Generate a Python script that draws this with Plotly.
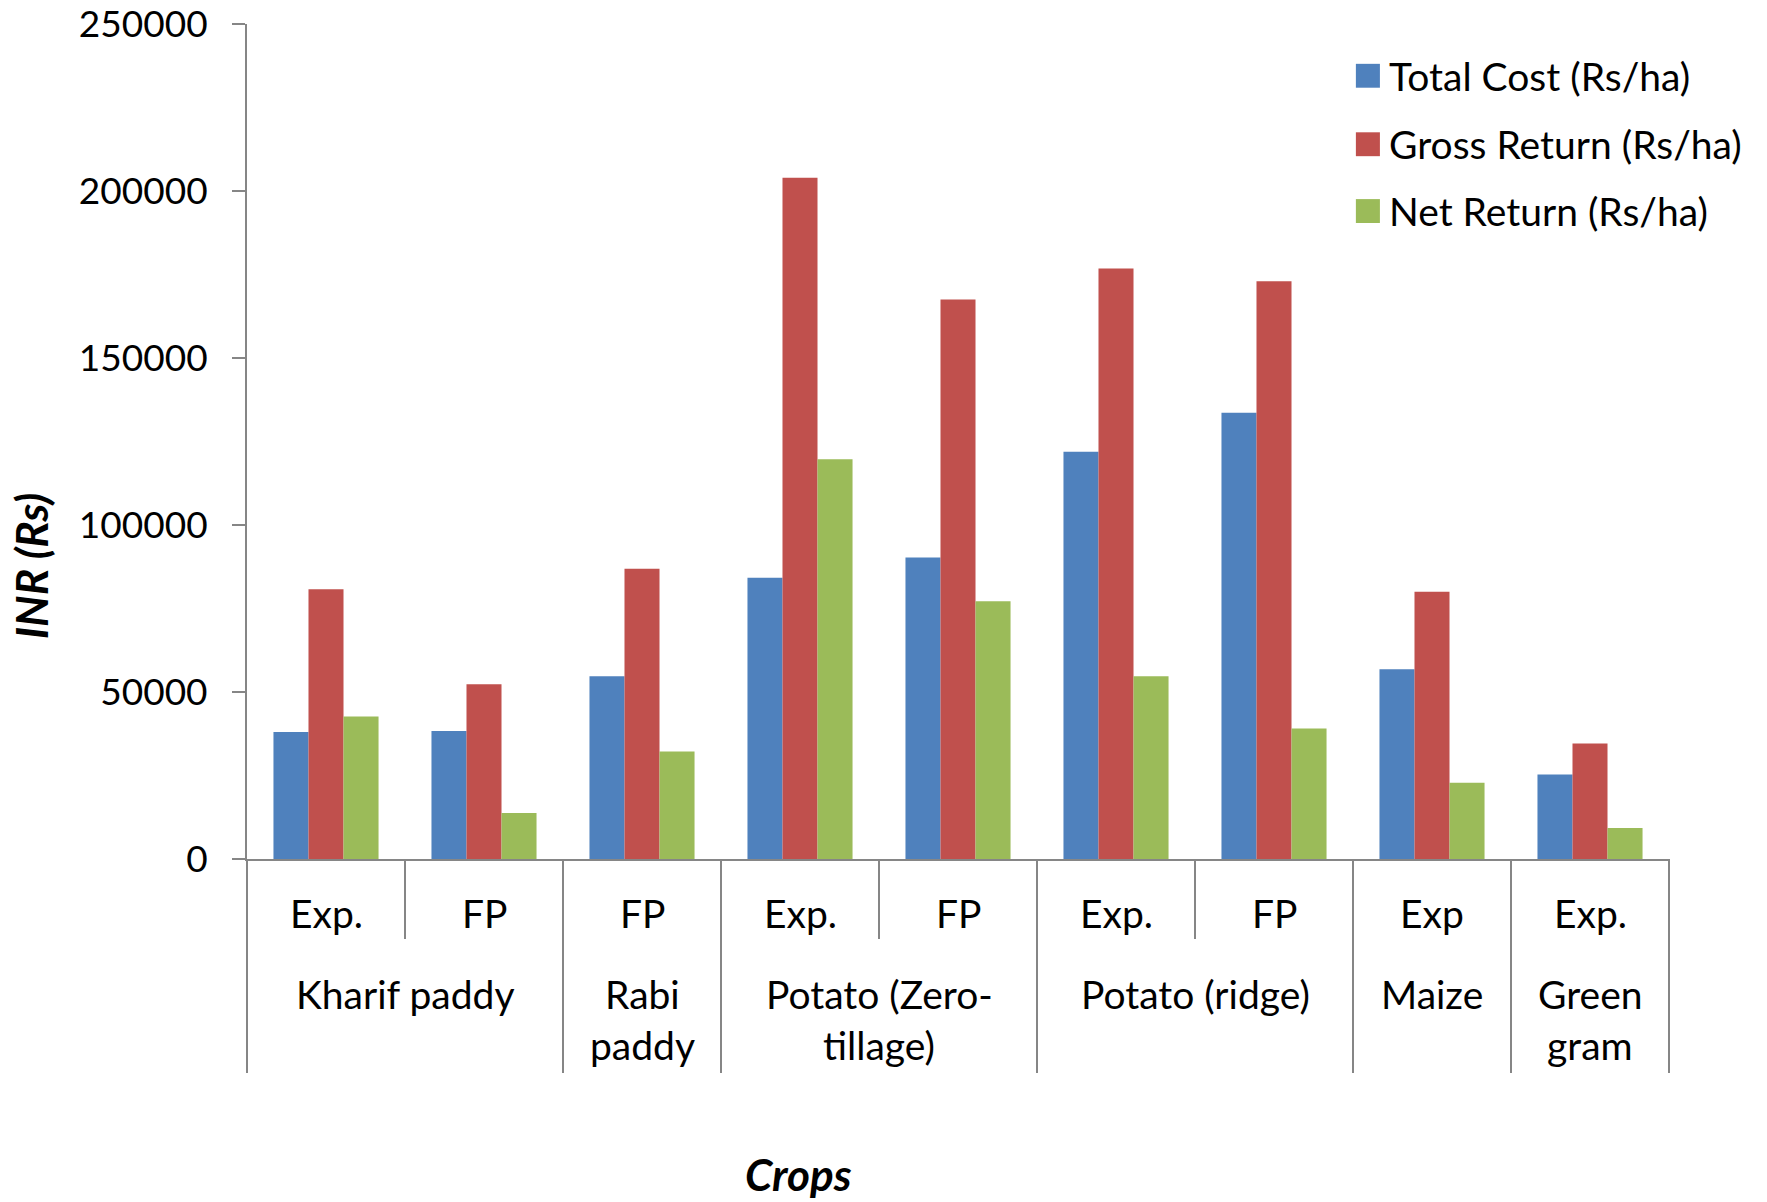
import plotly.graph_objects as go

# Crop economics per treatment (Rs/ha)
crop_groups = ["Kharif paddy", "Kharif paddy", "Rabi<br>paddy", "Potato (Zero-<br>tillage)",
               "Potato (Zero-<br>tillage)", "Potato (ridge)", "Potato (ridge)", "Maize", "Green<br>gram"]
treatments = ["Exp.", "FP", "FP", "Exp.", "FP", "Exp.", "FP", "Exp", "Exp."]

series_names = ["Total Cost (Rs/ha)", "Gross Return (Rs/ha)", "Net Return (Rs/ha)"]
total_cost = [38000, 38300, 54700, 84200, 90300, 121900, 133600, 56800, 25300]
gross_return = [80800, 52300, 86900, 204000, 167500, 176800, 173000, 80000, 34600]
net_return = [42700, 13800, 32200, 119700, 77200, 54700, 39100, 22800, 9300]

y_ticks = [0, 50000, 100000, 150000, 200000, 250000]

colors = ["#4F81BD", "#C0504D", "#9BBB59"]
FONT = "Lato, 'Open Sans', sans-serif"
AXIS_GREY = "#868686"
LABEL_SIZE = 39

n = len(treatments)
xs = list(range(n))

fig = go.Figure()
for name, vals, col in zip(series_names, [total_cost, gross_return, net_return], colors):
    fig.add_trace(go.Bar(x=xs, y=vals, name=name, marker=dict(color=col, line=dict(width=0)),
                         showlegend=False))

annotations = []
shapes = []

# Lower-level labels (treatment)
for i, t in enumerate(treatments):
    annotations.append(dict(x=i, y=-0.0647, xref="x", yref="paper", text=t, showarrow=False,
                            xanchor="center", yanchor="middle",
                            font=dict(size=LABEL_SIZE, color="black")))

# Upper-level labels (crop), one per run of identical crop names
runs = []
start = 0
for i in range(1, n + 1):
    if i == n or crop_groups[i] != crop_groups[start]:
        runs.append((start, i - 1, crop_groups[start]))
        start = i
line_gap = 0.0615
for a, b, label in runs:
    for k, line in enumerate(label.split("<br>")):
        annotations.append(dict(x=(a + b) / 2, y=-0.1613 - k * line_gap, xref="x", yref="paper",
                                text=line, showarrow=False, xanchor="center", yanchor="middle",
                                font=dict(size=LABEL_SIZE, color="black")))

# Category boundary lines below the axis
group_edges = {0, n} | {r[0] for r in runs}
for b in range(n + 1):
    bottom = -0.2563 if b in group_edges else -0.0958
    shapes.append(dict(type="line", xref="paper", yref="paper", x0=b / n, x1=b / n,
                       y0=0, y1=bottom, line=dict(color=AXIS_GREY, width=2)))

# Legend swatches and labels
legend_y = [0.938, 0.856, 0.776]
for name, col, ly in zip(series_names, colors, legend_y):
    shapes.append(dict(type="rect", xref="paper", yref="paper", x0=0.7798, x1=0.7967,
                       y0=ly - 0.0143, y1=ly + 0.0143, fillcolor=col, line=dict(width=0)))
    annotations.append(dict(x=0.8016, y=ly, xref="paper", yref="paper", text=name, showarrow=False,
                            xanchor="left", yanchor="middle",
                            font=dict(size=LABEL_SIZE, color="black")))

# Axis titles
annotations.append(dict(x=0.388, y=-0.3775, xref="paper", yref="paper", text="<b><i>Crops</i></b>",
                        showarrow=False, xanchor="center", yanchor="middle",
                        font=dict(size=44, color="black")))
annotations.append(dict(x=-0.1523, y=0.351, xref="paper", yref="paper", text="<b><i>INR (Rs)</i></b>",
                        showarrow=False, xanchor="center", yanchor="middle", textangle=-90,
                        font=dict(size=44, color="black")))

fig.update_layout(
    width=1767, height=1202,
    margin=dict(l=247, r=98, t=24, b=343, autoexpand=False),
    paper_bgcolor="white", plot_bgcolor="white",
    font=dict(family=FONT, size=36, color="black"),
    barmode="group", bargap=0.335, bargroupgap=0,
    annotations=annotations, shapes=shapes,
    xaxis=dict(range=[-0.5, n - 0.5], showticklabels=False, ticks="", showgrid=False,
               zeroline=False, showline=True, linecolor=AXIS_GREY, linewidth=2,
               automargin=False, fixedrange=True),
    yaxis=dict(range=[0, 250000], tickvals=y_ticks, ticktext=[str(v) for v in y_ticks],
               ticks="outside", ticklen=13, tickwidth=2, tickcolor=AXIS_GREY,
               showline=True, linecolor=AXIS_GREY, linewidth=2, showgrid=False, zeroline=False,
               automargin=False, ticklabeloverflow="allow", ticklabelstandoff=17,
               tickfont=dict(size=37, color="black")),
)

fig.write_html("out.html")
